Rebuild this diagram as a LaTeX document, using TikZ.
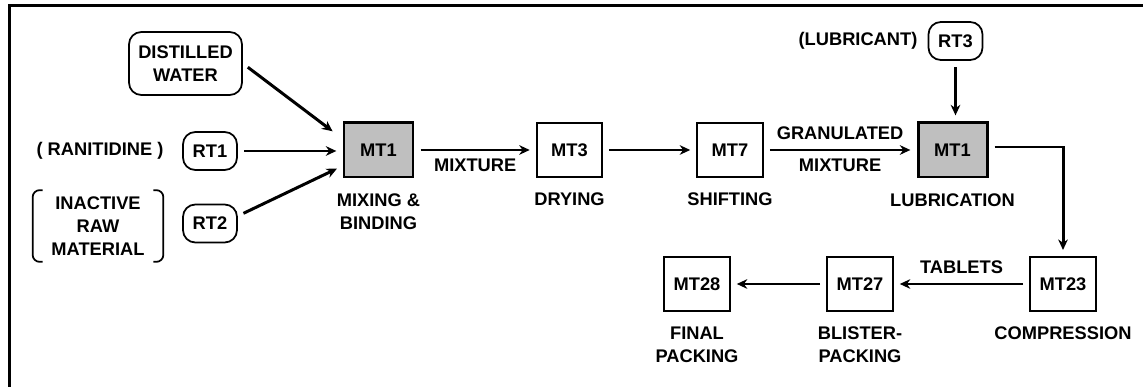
\documentclass[tikz,border=0pt]{standalone}
\usepackage{fontspec}
\setmainfont{Liberation Sans}
\usetikzlibrary{positioning,arrows.meta}
\begin{document}
\begin{tikzpicture}[font=\fontsize{10.4}{13}\selectfont\bfseries]
	\tikzstyle{machine} = [draw, line width=1pt, minimum width=1.31cm, minimum height=1.08cm, inner sep=0]
	\tikzstyle{keymachine} = [machine, line width=1.7pt, fill=black!25, minimum width=1.38cm]
	\tikzstyle{material} = [draw, line width=1pt, rounded corners=7pt, minimum width=1.08cm, minimum height=0.76cm, inner sep=0]
	\tikzstyle{caption} = [align=center, inner sep=0]
	\tikzstyle{flow} = [-{Stealth[length=6pt,width=5.5pt]}, line width=1.7pt, shorten <=3.5pt, shorten >=3.5pt]
	\useasboundingbox (0,0) rectangle (22.86,7.74);
	\draw [line width=1.7pt] (0.19,0) -- (0.19,7.62) -- (22.86,7.62);
	
	\node [material, align=center, minimum width=2.26cm, minimum height=1.26cm] (dw) at (3.71,6.47) {DISTILLED\\WATER};
	\node [material] (rt1) at (4.20,4.72) {RT1};
	\node [material] (rt2) at (4.20,3.27) {RT2};
	\node [material] (rt3) at (19.11,6.92) {RT3};
	\node [caption] (rani) at (2.00,4.72) {( RANITIDINE )};
	\node [caption] (lubr) at (17.16,6.92) {(LUBRICANT)};
	\node [caption, minimum width=2.6cm, minimum height=1.42cm] (raw) at (1.96,3.22) {INACTIVE\\RAW\\MATERIAL};
	\draw [line width=1pt, rounded corners=4pt] ([xshift=0.2cm]raw.north west) -- (raw.north west) -- (raw.south west) -- ([xshift=0.2cm]raw.south west);
	\draw [line width=1pt, rounded corners=4pt] ([xshift=-0.2cm]raw.north east) -- (raw.north east) -- (raw.south east) -- ([xshift=-0.2cm]raw.south east);
	
	\node [keymachine] (mtA) at (7.57,4.74) {MT1};
	\node [machine] (mt3) at (11.39,4.74) {MT3};
	\node [machine] (mt7) at (14.60,4.74) {MT7};
	\node [keymachine] (mtB) at (19.05,4.74) {MT1};
	\node [machine] (mt23) at (21.26,2.06) {MT23};
	\node [machine] (mt27) at (17.20,2.06) {MT27};
	\node [machine] (mt28) at (13.94,2.06) {MT28};
	
	\node [caption, below=8.5pt of mtA] (lblA) {MIXING \&\\BINDING};
	\node [caption, below=8.5pt of mt3] (lbl3) {DRYING};
	\node [caption, below=8.5pt of mt7] (lbl7) {SHIFTING};
	\node [caption, below=8.5pt of mtB] (lblB) {LUBRICATION};
	\node [caption, below=8.5pt of mt23] (lbl23) {COMPRESSION};
	\node [caption, below=8.5pt of mt27] (lbl27) {BLISTER-\\PACKING};
	\node [caption, below=8.5pt of mt28] (lbl28) {FINAL\\PACKING};
	
	\draw [flow] (dw.east) -- ([xshift=-0.1cm,yshift=0.3cm]mtA.west);
	\draw [flow] (rt1.east) -- (rt1.east -| mtA.west);
	\draw [flow] ([yshift=0.15cm]rt2.east) -- ([yshift=-0.32cm]mtA.west);
	\draw [flow] (mtA.east) -- node [caption, below=4pt] {MIXTURE} (mt3.west);
	\draw [flow] (mt3.east) -- (mt7.west);
	\draw [flow] (mt7.east) -- node [caption, above=5pt] {GRANULATED} node [caption, below=4pt] {MIXTURE} (mtB.west);
	\draw [flow] (rt3.south) -- (rt3.south |- mtB.north);
	\draw [flow] ([yshift=0.06cm]mtB.east) -| (mt23.north);
	\draw [flow] (mt23.west) -- node [caption, above=5pt] {TABLETS} (mt27.east);
	\draw [flow] (mt27.west) -- (mt28.east);
\end{tikzpicture}
\end{document}
